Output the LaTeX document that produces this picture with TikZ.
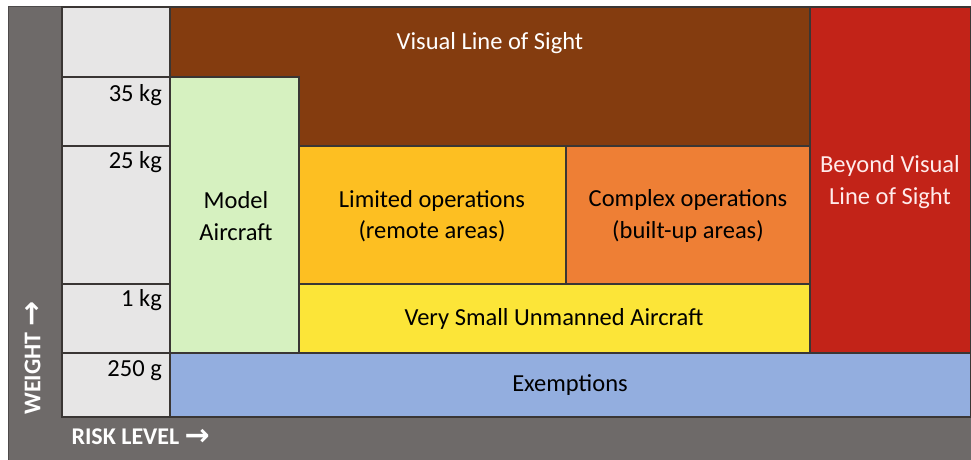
\documentclass[tikz,border=0pt]{standalone}
\usepackage{fontspec}
\setmainfont{Carlito}
\newfontfamily\arrowfont{DejaVu Sans}
\newcommand\axisarrow{\raisebox{-1pt}{\arrowfont\bfseries\fontsize{30}{30}\selectfont →}}
\definecolor{frame}{HTML}{6E6A69}
\definecolor{axiscell}{HTML}{E7E6E6}
\definecolor{vlos}{HTML}{843C0F}
\definecolor{model}{HTML}{D6F1C0}
\definecolor{limited}{HTML}{FDBF22}
\definecolor{complex}{HTML}{EE7F35}
\definecolor{small}{HTML}{FCE538}
\definecolor{bvlos}{HTML}{C22318}
\definecolor{exempt}{HTML}{93AEDF}
\definecolor{edge}{HTML}{3A3634}
\tikzset{
  region/.style={draw=edge, line width=1.3pt, anchor=north west, inner sep=0pt, outer sep=0pt},
  lbl/.style={font=\fontsize{24.5}{31.5}\selectfont, align=center, text=black},
  wlbl/.style={lbl, text=white},
  wt/.style={font=\fontsize{24.5}{30}\selectfont, anchor=base east, inner sep=0pt, text=black},
  axislbl/.style={font=\bfseries\fontsize{24}{28}\selectfont, text=white}
}
\begin{document}
\begin{tikzpicture}[x=1pt,y=-1pt]
\useasboundingbox (0,0) rectangle (971,460);
\fill[white] (0,0) rectangle (971,460);
% grey frame carrying the axis labels
\node[region, fill=frame, draw=frame!70!black, line width=1pt, minimum width=963pt, minimum height=453pt] (frame) at (8,7) {};
% weight column cells
\node[region, fill=axiscell, minimum width=108pt, minimum height=70pt] (c0) at (62,7) {};
\node[region, fill=axiscell, minimum width=108pt, minimum height=69pt] (c35) at (62,77) {};
\node[region, fill=axiscell, minimum width=108pt, minimum height=138pt] (c25) at (62,146) {};
\node[region, fill=axiscell, minimum width=108pt, minimum height=69pt] (c1) at (62,284) {};
\node[region, fill=axiscell, minimum width=108pt, minimum height=64pt] (c250) at (62,353) {};
\node[wt] (w35) at (162,101) {35 kg};
\node[wt] (w25) at (162,168) {25 kg};
\node[wt] (w1) at (162,306) {1 kg};
\node[wt] (w250) at (162,376) {250 g};
% operating categories
\node[region, fill=vlos, minimum width=640pt, minimum height=139pt] (vlosbox) at (170,7) {};
\node[region, fill=bvlos, minimum width=161pt, minimum height=346pt] (bvlosbox) at (810,7) {};
\node[region, fill=model, minimum width=129pt, minimum height=276pt] (modelbox) at (170,77) {};
\node[region, fill=limited, minimum width=267pt, minimum height=138pt] (limbox) at (299,146) {};
\node[region, fill=complex, minimum width=244pt, minimum height=138pt] (cpxbox) at (566,146) {};
\node[region, fill=small, minimum width=511pt, minimum height=69pt] (smallbox) at (299,284) {};
\node[region, fill=exempt, minimum width=801pt, minimum height=64pt] (exbox) at (170,353) {};
% category labels
\node[wlbl] (vlostxt) at (490,43) {Visual Line of Sight};
\node[wlbl, text=white!92!red] (bvlostxt) at (890,182) {Beyond Visual\\Line of Sight};
\node[lbl] (modeltxt) at (236,216) {Model\\Aircraft};
\node[lbl] (limtxt) at (432,216) {Limited operations\\(remote areas)};
\node[lbl] (cpxtxt) at (688,216) {Complex operations\\(built-up areas)};
\node[lbl] (smalltxt) at (554,319) {Very Small Unmanned Aircraft};
\node[lbl] (extxt) at (570,385) {Exemptions};
% axis titles
\node[axislbl, anchor=west] (risk) at (68,437) {RISK LEVEL \axisarrow};
\node[axislbl, anchor=west, rotate=90] (weight) at (33,418) {WEIGHT \axisarrow};
\end{tikzpicture}
\end{document}
